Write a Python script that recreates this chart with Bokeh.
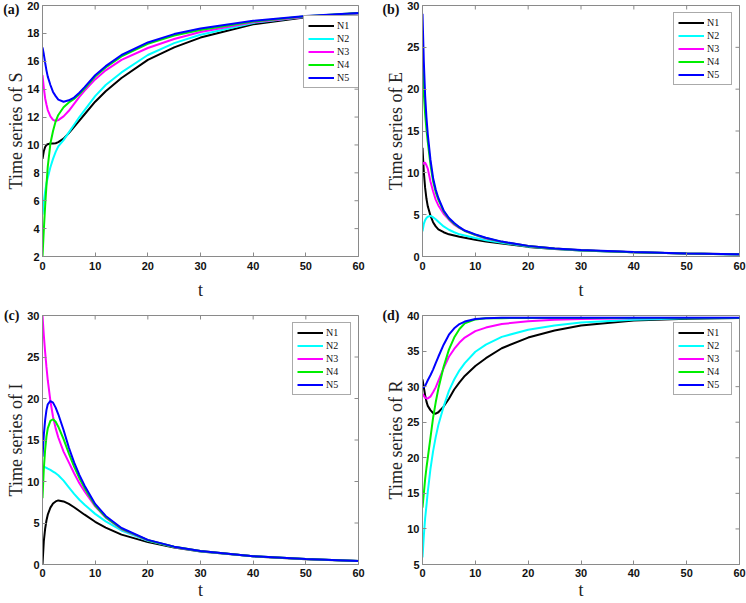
import math
from bokeh.plotting import figure
from bokeh.models import Range1d, LinearAxis, FixedTicker, Legend, LegendItem
from bokeh.layouts import column, row
from bokeh.embed import file_html
from bokeh.resources import INLINE

# ---------------- data ----------------
t = [0, 0.25, 0.5, 0.75, 1, 1.5, 2, 2.5, 3, 4, 5, 6, 7, 8, 10, 12, 15, 20, 25, 30, 40, 50, 60]

S_N1 = [9.0, 9.55, 9.85, 10.0, 10.05, 10.1, 10.1, 10.12, 10.2, 10.45, 10.85, 11.3, 11.75, 12.2, 13.1, 13.85, 14.8, 16.1, 17.0, 17.7, 18.65, 19.15, 19.45]
S_N2 = [5.0, 5.9, 6.65, 7.25, 7.65, 8.4, 9.0, 9.5, 9.9, 10.35, 10.9, 11.45, 12.0, 12.5, 13.5, 14.3, 15.2, 16.45, 17.3, 17.9, 18.75, 19.2, 19.45]
S_N3 = [15.0, 14.1, 13.35, 12.9, 12.5, 12.05, 11.8, 11.72, 11.78, 12.05, 12.45, 12.95, 13.45, 13.9, 14.7, 15.35, 16.1, 16.95, 17.6, 18.1, 18.8, 19.2, 19.45]
S_N4 = [2.0, 3.9, 5.6, 7.1, 8.45, 10.1, 11.0, 11.7, 12.15, 12.7, 13.05, 13.3, 13.65, 14.05, 14.9, 15.55, 16.35, 17.25, 17.85, 18.25, 18.85, 19.23, 19.46]
S_N5 = [17.0, 16.5, 15.9, 15.35, 14.9, 14.3, 13.8, 13.5, 13.25, 13.1, 13.2, 13.4, 13.75, 14.15, 15.0, 15.65, 16.45, 17.35, 17.95, 18.35, 18.9, 19.25, 19.47]

E_N1 = [13.0, 10.1, 8.2, 6.9, 6.0, 4.9, 4.1, 3.6, 3.25, 2.9, 2.65, 2.5, 2.35, 2.25, 2.0, 1.8, 1.55, 1.15, 0.9, 0.72, 0.5, 0.35, 0.25]
E_N2 = [3.0, 3.9, 4.35, 4.6, 4.75, 4.85, 4.7, 4.45, 4.15, 3.6, 3.2, 2.9, 2.65, 2.5, 2.2, 1.95, 1.65, 1.2, 0.92, 0.73, 0.5, 0.35, 0.25]
E_N3 = [11.0, 11.2, 11.2, 10.9, 10.5, 9.0, 7.8, 6.8, 6.1, 5.1, 4.4, 3.8, 3.4, 3.1, 2.55, 2.15, 1.75, 1.25, 0.95, 0.75, 0.52, 0.36, 0.26]
E_N4 = [23.0, 19.5, 17.0, 15.2, 13.7, 11.0, 9.0, 7.7, 6.8, 5.4, 4.5, 3.9, 3.45, 3.05, 2.6, 2.2, 1.75, 1.25, 0.96, 0.76, 0.52, 0.36, 0.26]
E_N5 = [29.0, 23.3, 19.2, 16.6, 14.6, 11.6, 9.4, 8.0, 7.0, 5.5, 4.6, 4.0, 3.5, 3.1, 2.65, 2.25, 1.78, 1.27, 0.97, 0.77, 0.53, 0.37, 0.27]

I_N1 = [0.0, 2.8, 4.3, 5.3, 6.0, 6.85, 7.35, 7.6, 7.72, 7.6, 7.3, 6.9, 6.45, 6.0, 5.15, 4.45, 3.6, 2.7, 2.05, 1.58, 0.98, 0.64, 0.42]
I_N2 = [11.7, 11.75, 11.72, 11.65, 11.55, 11.4, 11.2, 11.0, 10.75, 10.1, 9.3, 8.5, 7.8, 7.2, 6.1, 5.2, 4.1, 2.85, 2.1, 1.6, 0.99, 0.65, 0.43]
I_N3 = [30.0, 27.6, 25.6, 23.8, 22.2, 19.7, 17.8, 16.4, 15.3, 13.6, 12.3, 11.0, 9.8, 8.8, 7.0, 5.65, 4.25, 2.92, 2.12, 1.62, 1.0, 0.66, 0.43]
I_N4 = [8.0, 11.5, 13.8, 15.4, 16.4, 17.3, 17.5, 17.2, 16.6, 15.1, 13.4, 11.8, 10.4, 9.2, 7.1, 5.7, 4.3, 2.93, 2.13, 1.62, 1.0, 0.66, 0.43]
I_N5 = [13.0, 15.6, 17.4, 18.6, 19.3, 19.7, 19.5, 18.9, 18.1, 16.2, 14.1, 12.3, 10.8, 9.5, 7.3, 5.85, 4.4, 2.97, 2.15, 1.64, 1.0, 0.66, 0.43]

R_N1 = [31.0, 29.9, 28.8, 27.9, 27.3, 26.7, 26.3, 26.2, 26.4, 27.2, 28.3, 29.6, 30.6, 31.5, 32.9, 34.0, 35.4, 36.9, 37.9, 38.6, 39.3, 39.55, 39.65]
R_N2 = [6.0, 9.0, 11.5, 13.3, 15.2, 18.4, 20.9, 22.9, 24.6, 27.2, 29.4, 31.0, 32.3, 33.3, 34.9, 35.9, 37.0, 38.0, 38.6, 39.0, 39.4, 39.6, 39.65]
R_N3 = [29.0, 28.7, 28.45, 28.35, 28.35, 28.6, 29.2, 29.9, 30.8, 32.6, 34.2, 35.3, 36.2, 36.9, 37.8, 38.3, 38.8, 39.2, 39.4, 39.5, 39.6, 39.65, 39.65]
R_N4 = [13.0, 15.0, 17.0, 18.6, 20.0, 22.8, 25.6, 27.8, 29.7, 32.8, 35.2, 36.9, 38.1, 38.9, 39.45, 39.6, 39.63, 39.65, 39.65, 39.65, 39.65, 39.65, 39.65]
R_N5 = [30.0, 29.9, 30.1, 30.5, 30.9, 31.6, 32.4, 33.3, 34.2, 35.9, 37.3, 38.2, 38.8, 39.15, 39.5, 39.62, 39.68, 39.7, 39.7, 39.7, 39.7, 39.7, 39.7]

series_names = ["N1", "N2", "N3", "N4", "N5"]
panel_tags = ["(a)", "(b)", "(c)", "(d)"]
x_ticks = [0, 10, 20, 30, 40, 50, 60]
S_ticks = [2, 4, 6, 8, 10, 12, 14, 16, 18, 20]
E_ticks = [0, 5, 10, 15, 20, 25, 30]
I_ticks = [0, 5, 10, 15, 20, 25, 30]
R_ticks = [5, 10, 15, 20, 25, 30, 35, 40]

# ---------------- styling ----------------
COLORS = ["#000000", "#00ffff", "#ff00ff", "#00ee00", "#0000ff"]
AX_GRAY = "#8a8a8a"
SERIF = "Liberation Serif"
SANS = "Liberation Sans"


def style_axis(ax, ticks, tick_standoff=4, label_standoff=3):
    ax.ticker = FixedTicker(ticks=ticks)
    ax.axis_line_color = AX_GRAY
    ax.major_tick_line_color = AX_GRAY
    ax.major_tick_in = 4
    ax.major_tick_out = 0
    ax.minor_tick_line_color = None
    ax.major_label_text_font = SANS
    ax.major_label_text_font_style = "bold"
    ax.major_label_text_font_size = "11px"
    ax.major_label_text_color = "#111111"
    ax.major_label_standoff = tick_standoff
    ax.axis_label_text_font = SERIF
    ax.axis_label_text_font_style = "normal"
    ax.axis_label_text_font_size = "18px"
    ax.axis_label_text_color = "#222222"
    ax.axis_label_standoff = label_standoff


def make_panel(tag, var, ys, ymin, ymax, yticks, width, height, borders,
               legend_loc, tag_y, x_standoffs):
    bl, br, bt, bb = borders
    p = figure(width=width, height=height, x_range=Range1d(0, 60),
               y_range=Range1d(ymin, ymax), output_backend="svg",
               toolbar_location=None, min_border_left=bl, min_border_right=br,
               min_border_top=bt, min_border_bottom=bb)
    p.grid.visible = False
    p.outline_line_color = AX_GRAY
    p.outline_line_width = 1
    p.background_fill_color = "white"
    p.border_fill_color = "white"
    style_axis(p.xaxis[0], x_ticks, tick_standoff=x_standoffs[0],
               label_standoff=x_standoffs[1])
    style_axis(p.yaxis[0], yticks, tick_standoff=3, label_standoff=-2)
    p.xaxis[0].axis_label = "t"
    p.yaxis[0].axis_label = "Time series of " + var

    # inward tick marks on the top and right edges of the box (half clipped)
    p.scatter(x_ticks, [ymax] * len(x_ticks), marker="dash", size=8,
              angle=math.pi / 2, line_color=AX_GRAY, line_width=1)
    p.scatter([60] * len(yticks), yticks, marker="dash", size=8,
              line_color=AX_GRAY, line_width=1)

    # panel tag "(a)" etc., drawn as the single label of an extra outer axis
    tag_ax = LinearAxis(ticker=FixedTicker(ticks=[tag_y]),
                        major_label_overrides={tag_y: tag})
    tag_ax.axis_line_color = None
    tag_ax.major_tick_line_color = None
    tag_ax.minor_tick_line_color = None
    tag_ax.major_tick_in = 0
    tag_ax.major_tick_out = 0
    tag_ax.major_label_standoff = -16
    tag_ax.major_label_text_font = SERIF
    tag_ax.major_label_text_font_style = "bold"
    tag_ax.major_label_text_font_size = "14px"
    tag_ax.major_label_text_color = "#111111"
    p.add_layout(tag_ax, "left")

    items = []
    for name, y, c in zip(series_names, ys, COLORS):
        r = p.line(t, y, line_color=c, line_width=2)
        items.append(LegendItem(label=name, renderers=[r]))
    leg = Legend(items=items, location=legend_loc)
    leg.label_text_font = SERIF
    leg.label_text_font_size = "10px"
    leg.label_text_color = "#111111"
    leg.glyph_width = 26
    leg.glyph_height = 9
    leg.label_height = 9
    leg.label_standoff = 3
    leg.padding = 4
    leg.spacing = 2
    leg.margin = 7
    leg.border_line_color = "#555555"
    leg.border_line_width = 1
    leg.background_fill_color = "white"
    leg.background_fill_alpha = 1
    p.add_layout(leg)
    return p


pa = make_panel(panel_tags[0], "S", [S_N1, S_N2, S_N3, S_N4, S_N5], 2, 20, S_ticks,
                379, 302, (39, 21, 5, 46), (261, 168), 19.7, (5, 7))
pb = make_panel(panel_tags[1], "E", [E_N1, E_N2, E_N3, E_N4, E_N5], 0, 30, E_ticks,
                367, 302, (39, 7, 5, 46), "top_right", 29.5, (5, 7))
pc = make_panel(panel_tags[2], "I", [I_N1, I_N2, I_N3, I_N4, I_N5], 0, 30, I_ticks,
                379, 300, (39, 21, 13, 38), "top_right", 30, (4, 0))
pd = make_panel(panel_tags[3], "R", [R_N1, R_N2, R_N3, R_N4, R_N5], 5, 40, R_ticks,
                367, 300, (39, 7, 13, 38), "top_right", 40, (4, 0))

layout = column(row(pa, pb), row(pc, pd))
open("out.html", "w").write(file_html(layout, INLINE))
